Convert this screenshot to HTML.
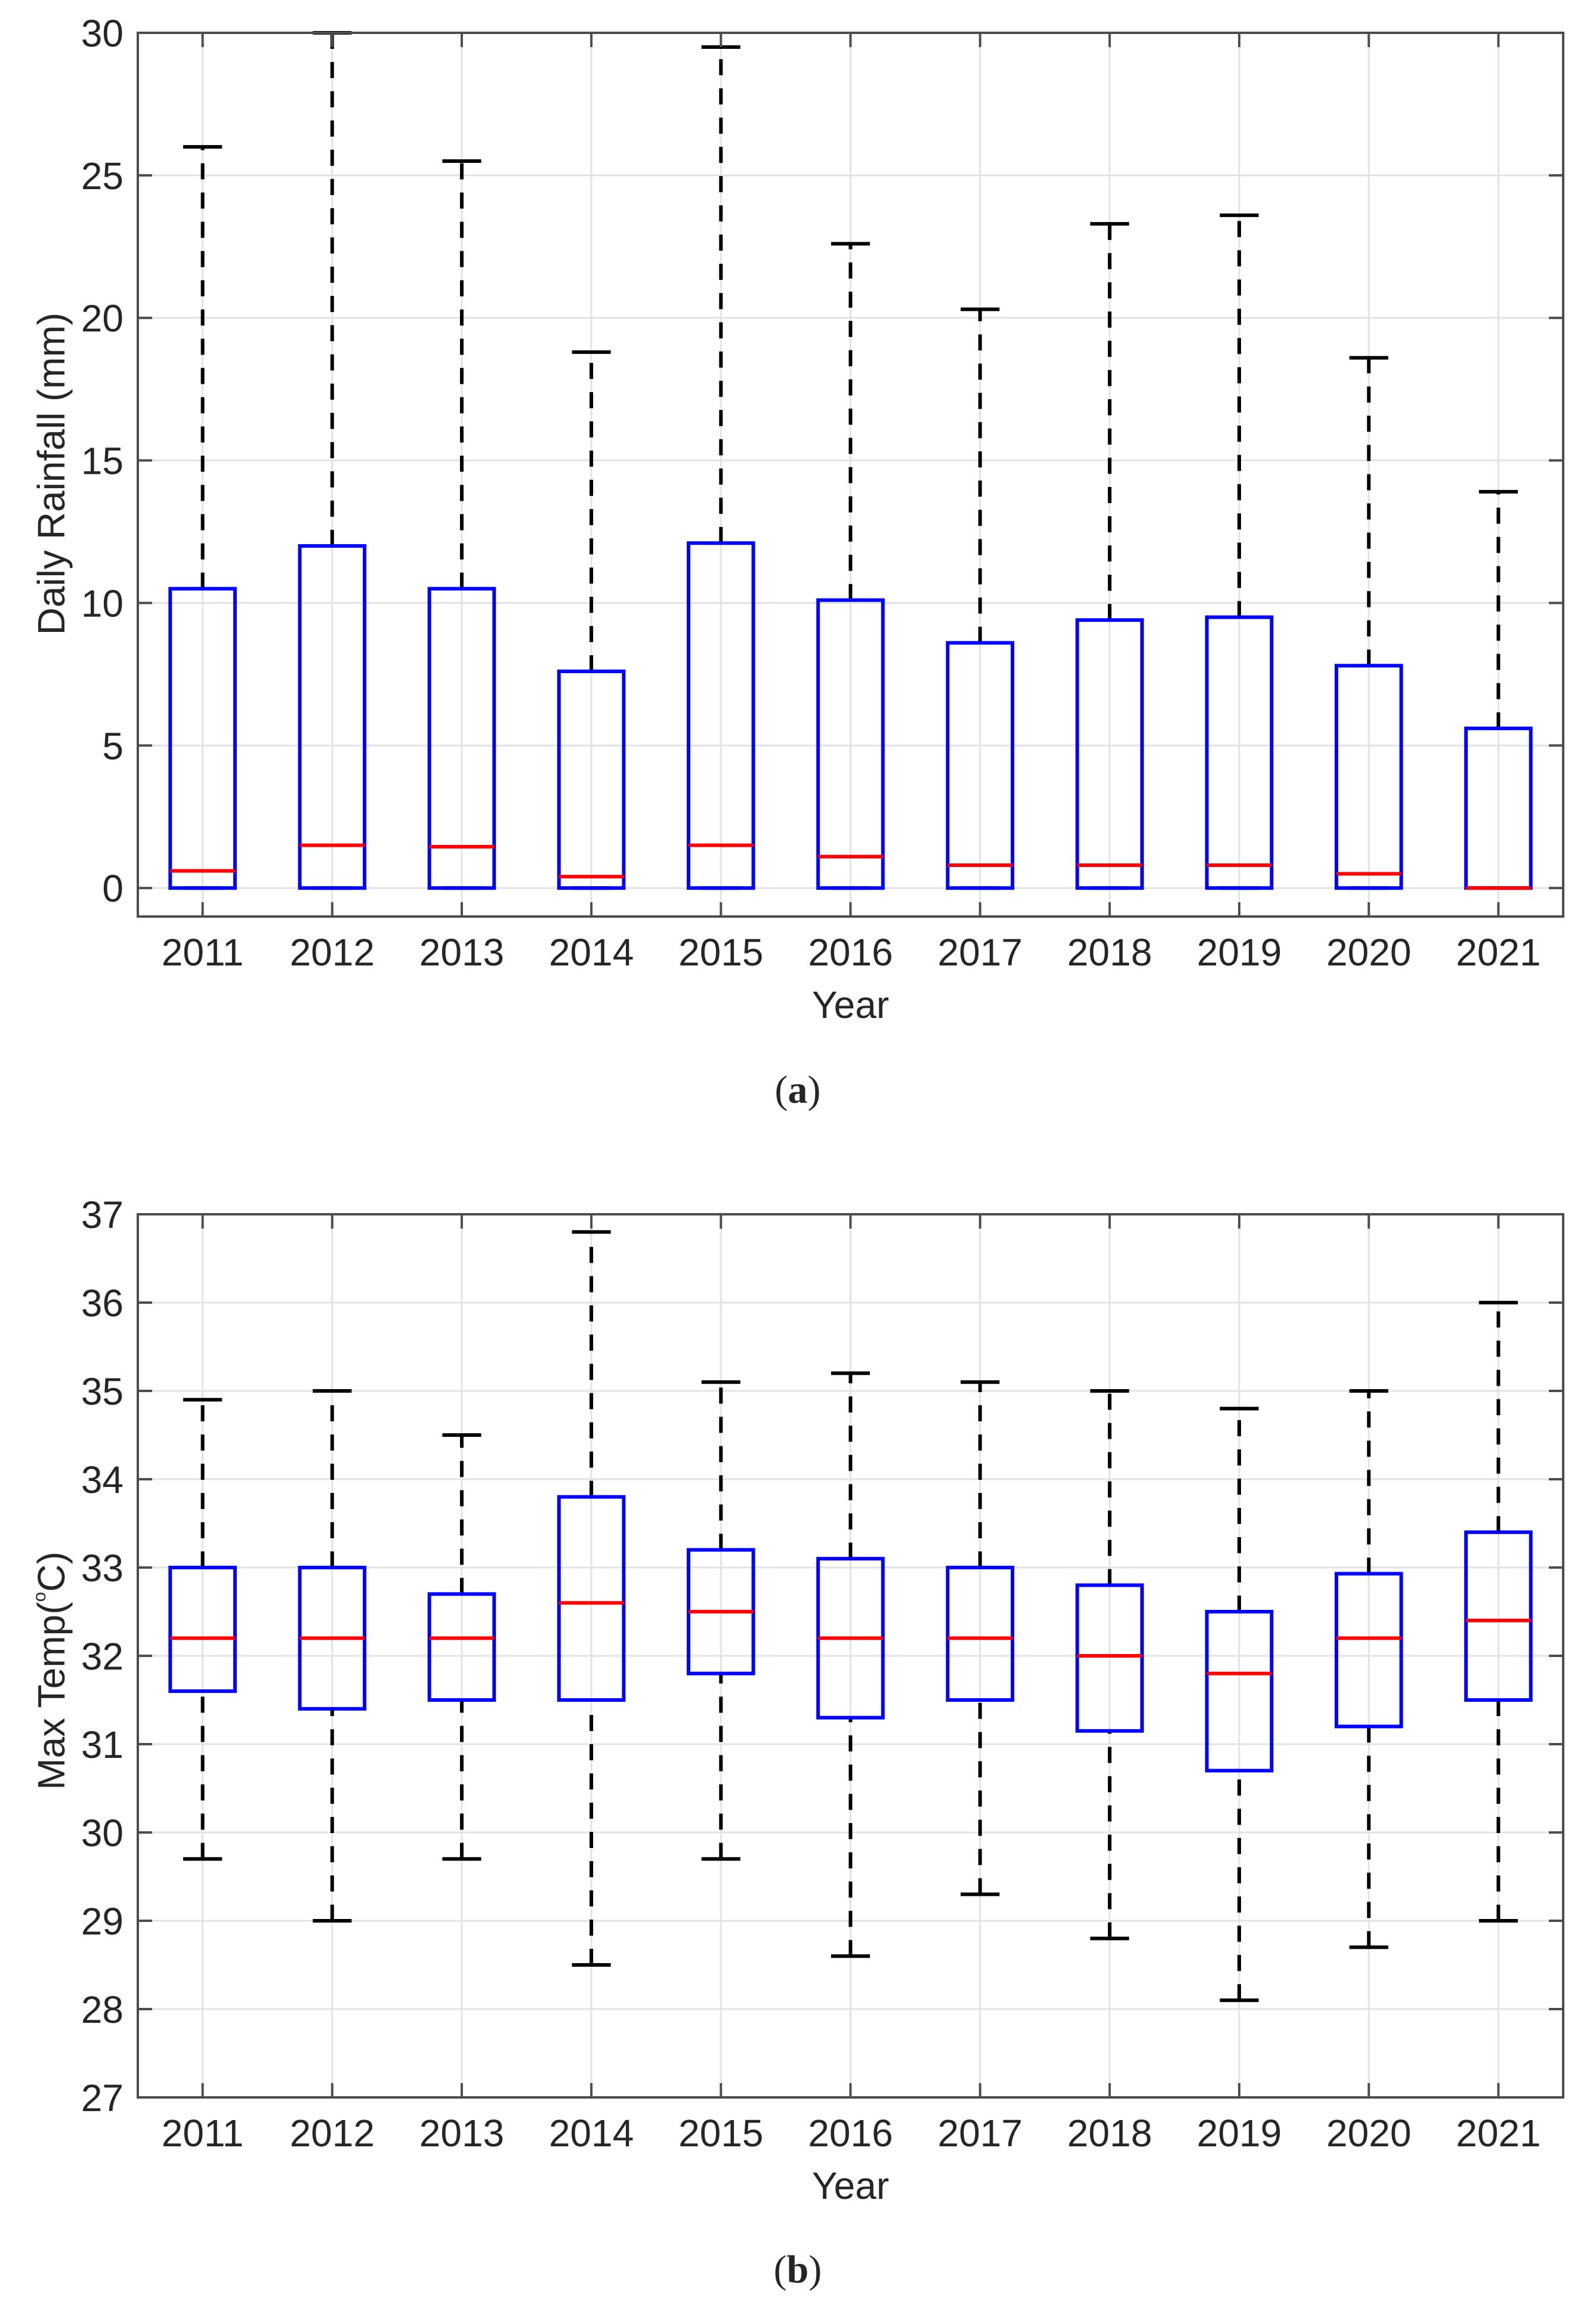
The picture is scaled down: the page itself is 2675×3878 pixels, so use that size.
<!DOCTYPE html>
<html><head><meta charset="utf-8"><style>
body{margin:0;background:#fff}
svg{display:block}
text{font-family:"Liberation Sans",Arial,sans-serif;fill:#262626}
</style></head><body>
<svg id="fig" width="2675" height="3878" viewBox="0 0 2675 3878" xmlns="http://www.w3.org/2000/svg">
<rect width="2675" height="3878" fill="#fff"/>
<g id="chartA"></g>
<g id="chartB"></g>
<text x="1337" y="1848" text-anchor="middle" font-size="66" style="font-family:'Liberation Serif',serif">(<tspan font-weight="bold">a</tspan>)</text>
<text x="1337" y="3825" text-anchor="middle" font-size="66" style="font-family:'Liberation Serif',serif">(<tspan font-weight="bold">b</tspan>)</text>
</svg>
<script>
const years = ["2011","2012","2013","2014","2015","2016","2017","2018","2019","2020","2021"];
// Rainfall (a)
const rainLow = [0,0,0,0,0,0,0,0,0,0,0];
const rainQ1 = [0,0,0,0,0,0,0,0,0,0,0];
const rainMed = [0.6,1.5,1.45,0.4,1.5,1.1,0.8,0.8,0.8,0.5,0];
const rainQ3 = [10.5,12,10.5,7.6,12.1,10.1,8.6,9.4,9.5,7.8,5.6];
const rainHigh = [26,30,25.5,18.8,29.5,22.6,20.3,23.3,23.6,18.6,13.9];
const rainTicks = [0,5,10,15,20,25,30];
// Temperature (b)
const tempLow = [29.7,29.0,29.7,28.5,29.7,28.6,29.3,28.8,28.1,28.7,29.0];
const tempQ1 = [31.6,31.4,31.5,31.5,31.8,31.3,31.5,31.15,30.7,31.2,31.5];
const tempMed = [32.2,32.2,32.2,32.6,32.5,32.2,32.2,32.0,31.8,32.2,32.4];
const tempQ3 = [33.0,33.0,32.7,33.8,33.2,33.1,33.0,32.8,32.5,32.93,33.4];
const tempHigh = [34.9,35.0,34.5,36.8,35.1,35.2,35.1,35.0,34.8,35.0,36.0];
const tempTicks = [27,28,29,30,31,32,33,34,35,36,37];

const NS="http://www.w3.org/2000/svg";
function mk(parent,tag,attrs){const e=document.createElementNS(NS,tag);for(const k in attrs)e.setAttribute(k,attrs[k]);parent.appendChild(e);return e;}

function drawChart(g,cfg){
  const L=231,R=2620,T=cfg.top,B=cfg.bottom;
  const x=i=>L+(i+0.5)*(R-L)/years.length;
  const y=v=>B-(v-cfg.ymin)*(B-T)/(cfg.ymax-cfg.ymin);
  cfg.ticks.forEach(t=>{
    const l=mk(g,'line',{x1:L,x2:R,y1:y(t),y2:y(t),stroke:'#e3e3e3','stroke-width':3});
    
    
  });
  years.forEach((yr,i)=>{
    const l=mk(g,'line',{x1:x(i),x2:x(i),y1:T,y2:B,stroke:'#e3e3e3','stroke-width':3});
    
    
  });
  years.forEach((yr,i)=>{
    const bg=mk(g,'g',{});
    
    
    const cx=x(i),hw=0.25*(R-L)/years.length,cw=0.15*(R-L)/years.length;
    const dash={stroke:'#000','stroke-width':6,'stroke-dasharray':'27 22'};
    mk(bg,'line',Object.assign({x1:cx,x2:cx,y1:y(cfg.q3[i]),y2:y(cfg.high[i])},dash));
    if(cfg.q1[i]>cfg.low[i]) mk(bg,'line',Object.assign({x1:cx,x2:cx,y1:y(cfg.low[i]),y2:y(cfg.q1[i])},dash));
    mk(bg,'line',{x1:cx-cw,x2:cx+cw,y1:y(cfg.high[i]),y2:y(cfg.high[i]),stroke:'#000','stroke-width':6});
    mk(bg,'line',{x1:cx-cw,x2:cx+cw,y1:y(cfg.low[i]),y2:y(cfg.low[i]),stroke:'#000','stroke-width':6});
    mk(bg,'rect',{x:cx-hw,y:y(cfg.q3[i]),width:2*hw,height:y(cfg.q1[i])-y(cfg.q3[i]),fill:'none',stroke:'#0000ff','stroke-width':6});
    mk(bg,'line',{x1:cx-hw,x2:cx+hw,y1:y(cfg.med[i]),y2:y(cfg.med[i]),stroke:'#ff0000','stroke-width':6});
  });
  const ax=mk(g,'rect',{x:L,y:T,width:R-L,height:B-T,fill:'none',stroke:'#4d4d4d','stroke-width':4});
  
  
  cfg.ticks.forEach(t=>{
    mk(g,'line',{x1:L,x2:L+24,y1:y(t),y2:y(t),stroke:'#4d4d4d','stroke-width':4});
    mk(g,'line',{x1:R,x2:R-24,y1:y(t),y2:y(t),stroke:'#4d4d4d','stroke-width':4});
    const tx=mk(g,'text',{x:207,y:y(t)+23,'text-anchor':'end','font-size':64});
    tx.textContent=t;
    
    
  });
  years.forEach((yr,i)=>{
    mk(g,'line',{x1:x(i),x2:x(i),y1:B,y2:B-24,stroke:'#4d4d4d','stroke-width':4});
    mk(g,'line',{x1:x(i),x2:x(i),y1:T,y2:T+24,stroke:'#4d4d4d','stroke-width':4});
    const tx=mk(g,'text',{x:x(i),y:B+82,'text-anchor':'middle','font-size':64});
    tx.textContent=yr;
    
    
  });
  const xt=mk(g,'text',{x:(L+R)/2,y:B+170,'text-anchor':'middle','font-size':64});
  xt.textContent='Year';
  
  
  const yt=mk(g,'text',{x:0,y:0,'text-anchor':'middle','font-size':64,transform:'translate(108,'+cfg.ylabY+') rotate(-90)'});
  yt.innerHTML=cfg.ylabel;
  
  
}
drawChart(document.getElementById('chartA'),{top:55,bottom:1536,ymin:-1,ymax:30,ticks:rainTicks,low:rainLow,q1:rainQ1,med:rainMed,q3:rainQ3,high:rainHigh,ylabel:'Daily Rainfall (mm)',ylabY:794});
drawChart(document.getElementById('chartB'),{top:2035,bottom:3515,ymin:27,ymax:37,ticks:tempTicks,low:tempLow,q1:tempQ1,med:tempMed,q3:tempQ3,high:tempHigh,ylabel:'Max Temp(<tspan font-size="30" dy="-32">o</tspan><tspan dy="32">C)</tspan>',ylabY:2800});
</script>
</body></html>
